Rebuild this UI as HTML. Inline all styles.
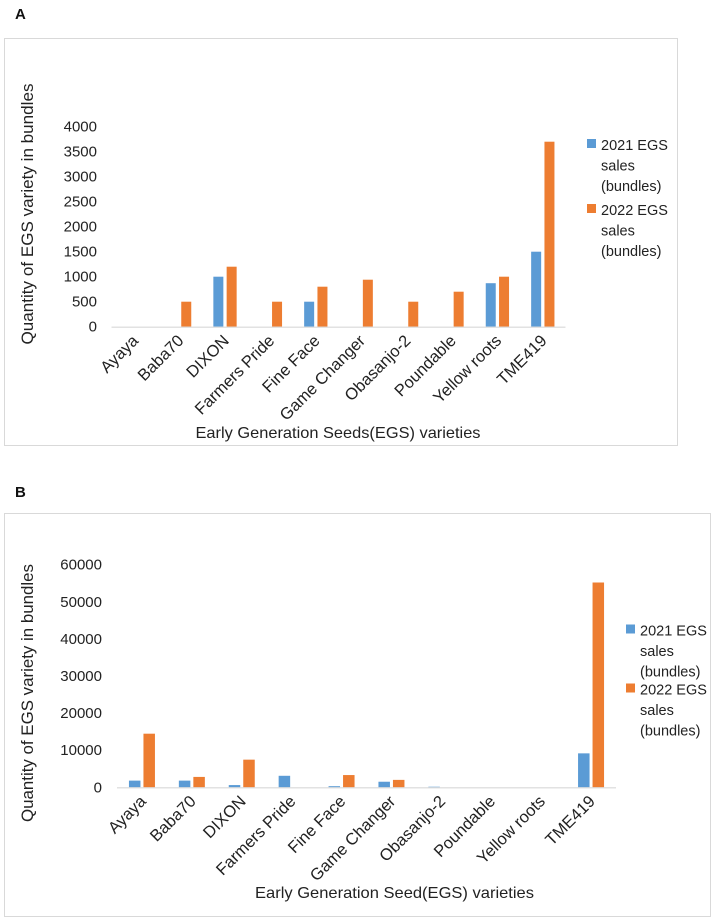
<!DOCTYPE html>
<html><head><meta charset="utf-8"><style>
html,body{margin:0;padding:0;background:#fff;}
svg{display:block;font-family:"Liberation Sans",sans-serif;}
</style></head><body>
<svg id="root" width="716" height="922" viewBox="0 0 716 922">
<text x="15" y="19" font-size="15" font-weight="bold" fill="#111">A</text>
<rect x="4.5" y="38.5" width="673" height="407" fill="#fff" stroke="#d9d9d9"/>
<text x="15" y="497" font-size="15" font-weight="bold" fill="#111">B</text>
<rect x="4.5" y="513.5" width="706" height="403" fill="#fff" stroke="#d9d9d9"/>
<g id="chartA"></g>
<g id="chartB"></g>
</svg>
<script>
const categories = ["Ayaya","Baba70","DIXON","Farmers Pride","Fine Face","Game Changer","Obasanjo-2","Poundable","Yellow roots","TME419"];
const seriesNames = ["2021 EGS sales (bundles)","2022 EGS sales (bundles)"];
const a2021 = [0,0,1000,0,500,0,0,0,870,1500];
const a2022 = [0,500,1200,500,800,940,500,700,1000,3700];
const aTicks = [0,500,1000,1500,2000,2500,3000,3500,4000];
const b2021 = [1800,1800,600,3100,300,1500,150,0,0,9150];
const b2022 = [14450,2800,7450,0,3300,2000,0,0,0,55200];
const bTicks = [0,10000,20000,30000,40000,50000,60000];
const colors = ["#5b9bd5","#ed7d31"];
const NS = "http://www.w3.org/2000/svg";
function mk(parent, tag, attrs, text){
  const e = document.createElementNS(NS, tag);
  for (const k in attrs) e.setAttribute(k, attrs[k]);
  if (text !== undefined) e.textContent = text;
  parent.appendChild(e);
  return e;
}
function draw(gid, cfg, s1, s2, ticks){
  const g = document.getElementById(gid);
  const yMax = ticks[ticks.length-1];
  const y = v => cfg.y0 - v / yMax * (cfg.y0 - cfg.yTop);
  const step = (cfg.x1 - cfg.x0) / categories.length;
  const cx = i => cfg.x0 + step * (i + 0.5);
  ticks.forEach(t => {
    const el = mk(g, "text", {x: cfg.tickX, y: y(t) + 5, "font-size": 15, "text-anchor": "end", fill: "#222"}, String(t));
    
    
  });
  [s1, s2].forEach((s, k) => {
    s.forEach((v, i) => {
      if (v <= 0) return;
      const x = k === 0 ? cx(i) - cfg.gap/2 - cfg.bw : cx(i) + cfg.gap/2;
      const r = mk(g, "rect", {x: x, y: y(v), width: cfg.bw, height: cfg.y0 - y(v), fill: colors[k]});
      
      
    });
  });
  const ax = mk(g, "line", {x1: cfg.x0, x2: cfg.x1, y1: cfg.y0 + 0.5, y2: cfg.y0 + 0.5, stroke: "#d9d9d9", "stroke-width": 1.2});
  
  
  categories.forEach((c, i) => {
    const tx = cx(i) + 5, ty = cfg.y0 + 15;
    const el = mk(g, "text", {x: tx, y: ty, "font-size": 16.5, "text-anchor": "end", fill: "#222", transform: `rotate(-45 ${tx} ${ty})`}, c);
    
    
  });
  const xt = mk(g, "text", {x: cfg.xtX, y: cfg.xtY, "font-size": 16, "text-anchor": "middle", fill: "#222", textLength: cfg.xtLen, lengthAdjust: "spacingAndGlyphs"}, cfg.xTitle);
  
  
  const yt = mk(g, "text", {x: 0, y: 0, "font-size": 17, "text-anchor": "middle", fill: "#222", transform: `translate(${cfg.ytX} ${cfg.ytY}) rotate(-90)`, textLength: cfg.ytLen, lengthAdjust: "spacingAndGlyphs"}, "Quantity of EGS variety in bundles");
  
  
  const lines = [["2021 EGS","sales","(bundles)"],["2022 EGS","sales","(bundles)"]];
  lines.forEach((ls, k) => {
    const top = cfg.legY + k * cfg.legBlock;
    const sq = mk(g, "rect", {x: cfg.legX, y: top - 5, width: 9, height: 9, fill: colors[k]});
    
    
    ls.forEach((t, j) => {
      const el = mk(g, "text", {x: cfg.legX + 14, y: top + 6 + j * cfg.legLine, "font-size": 14.5, fill: "#222"}, t);
      
      
    });
  });
}
draw("chartA", {x0:111.5, x1:565.5, y0:326.7, yTop:126.7, bw:10, gap:3.3, tickX:97, ytX:33, ytY:214, ytLen:261,
  xTitle:"Early Generation Seeds(EGS) varieties", xtX:338, xtY:438, xtLen:285,
  legX:587, legY:144, legBlock:65, legLine:20.5}, a2021, a2022, aTicks);
draw("chartB", {x0:117, x1:616, y0:787.3, yTop:564.7, bw:11.5, gap:3, tickX:102, ytX:33, ytY:693, ytLen:258,
  xTitle:"Early Generation Seed(EGS) varieties", xtX:394.5, xtY:898, xtLen:279,
  legX:626, legY:629.5, legBlock:59, legLine:20.5}, b2021, b2022, bTicks);
</script>
</body></html>
